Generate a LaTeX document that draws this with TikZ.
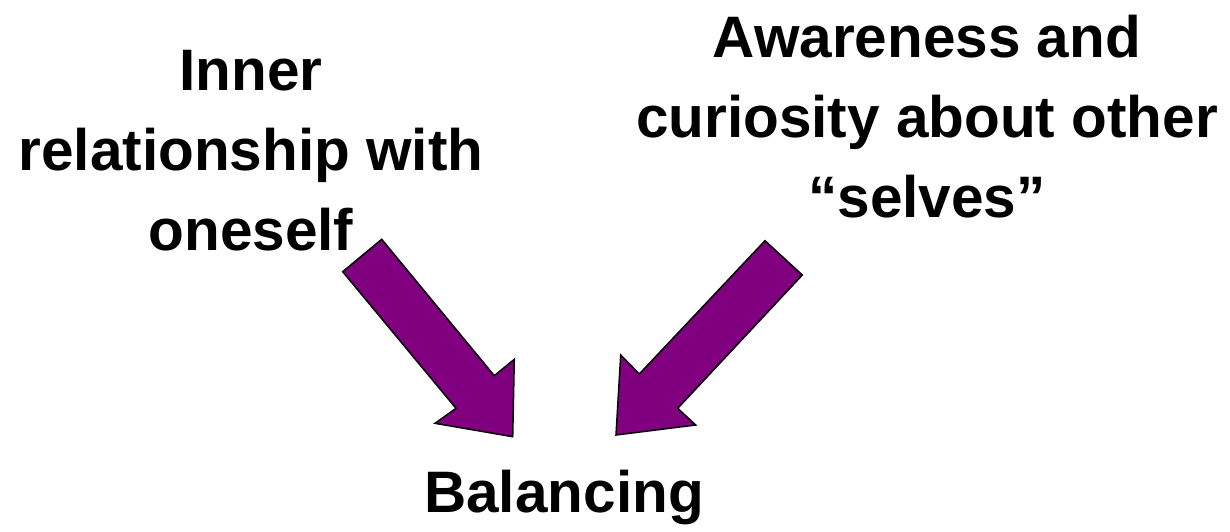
\documentclass[tikz,border=0pt]{standalone}
\usepackage{fontspec}
\setmainfont{Liberation Sans}
\definecolor{arrowpurple}{HTML}{800080}
\tikzset{
  label text/.style={align=center, inner sep=0pt, font=\fontsize{58.5}{80}\selectfont\bfseries},
  block arrow/.style={fill=arrowpurple, draw=black, line width=1.5pt, line join=miter}
}
\begin{document}
\begin{tikzpicture}[x=1pt,y=-1pt]
\useasboundingbox (0,0) rectangle (1230,531);
\node[label text, anchor=north] (inner) at (251,50) {Inner\\relationship with\\oneself};
\node[label text, anchor=north] (aware) at (927,15) {Awareness and\\curiosity about other\\“selves”};
\node[label text, anchor=north] (bal) at (564,470) {Balancing};
\draw[block arrow] (342.7,271.7) -- (381.7,239.3) -- (494.3,375.7) -- (514.3,359.3)
  -- (512.7,436.7) -- (435,423.3) -- (456,408.3) -- cycle;
\draw[block arrow] (765,240.7) -- (802.3,275) -- (677.7,408.3) -- (695.7,425)
  -- (616,435) -- (620.7,355) -- (639.3,374) -- cycle;
\end{tikzpicture}
\end{document}
